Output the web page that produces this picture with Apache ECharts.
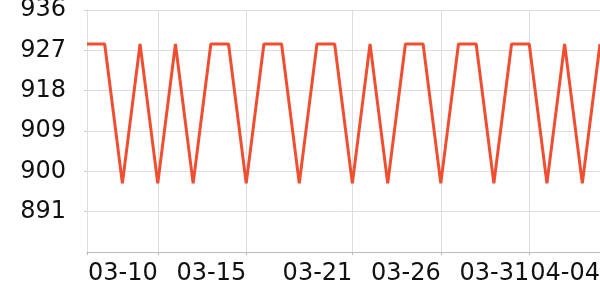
<!DOCTYPE html>
<html>
<head>
<meta charset="utf-8">
<script src="https://cdn.jsdelivr.net/npm/echarts@6/dist/echarts.min.js"></script>
<style>
  html, body { margin: 0; padding: 0; background: #fff; }
  #main { width: 600px; height: 300px; }
</style>
</head>
<body>
<div id="main"></div>
<script>
// dates (03-06 .. 04-04)
var dates = ['03-06', '03-07', '03-08', '03-09', '03-10', '03-11', '03-12', '03-13', '03-14', '03-15',
             '03-16', '03-17', '03-18', '03-19', '03-20', '03-21', '03-22', '03-23', '03-24', '03-25',
             '03-26', '03-27', '03-28', '03-29', '03-30', '03-31', '04-01', '04-02', '04-03', '04-04'];
var values = [928.4, 928.4, 897.3, 928.4, 897.3, 928.4, 897.3, 928.4, 928.4, 897.3,
              928.4, 928.4, 897.3, 928.4, 928.4, 897.3, 928.4, 897.3, 928.4, 928.4,
              897.3, 928.4, 928.4, 897.3, 928.4, 928.4, 897.3, 928.4, 897.3, 928.4];
// which dates get a tick / a label
var tickDates = ['03-06', '03-10', '03-15', '03-21', '03-26', '03-31', '04-04'];
var labelDates = ['03-10', '03-15', '03-21', '03-26', '03-31', '04-04'];

var chart = echarts.init(document.getElementById('main'));

function showTick(i) { return tickDates.indexOf(dates[i]) >= 0; }
function showLabel(i) { return labelDates.indexOf(dates[i]) >= 0; }

var option = {
    animation: false,
    grid: {
        left: 87,
        right: 0,
        top: 10,
        bottom: 48,
        outerBoundsMode: 'none'
    },
    xAxis: {
        type: 'category',
        boundaryGap: false,
        data: dates,
        axisLine: { lineStyle: { color: '#bbb', width: 1 } },
        axisTick: { show: true, length: 3, interval: showTick, lineStyle: { color: '#bbb' } },
        splitLine: { show: true, interval: showTick, lineStyle: { color: '#ddd' } },
        axisLabel: {
            interval: showLabel,
            align: 'right',
            margin: 10,
            fontSize: 24,
            color: '#111',
            fontFamily: 'DejaVu Sans'
        }
    },
    yAxis: {
        type: 'value',
        min: 882,
        max: 936,
        interval: 9,
        axisLine: { show: true, lineStyle: { color: '#ddd' } },
        axisTick: { show: true, length: 3, lineStyle: { color: '#ccc' } },
        splitLine: { lineStyle: { color: '#ddd' } },
        axisLabel: {
            showMinLabel: false,
            margin: 21,
            fontSize: 24,
            color: '#111',
            fontFamily: 'DejaVu Sans'
        }
    },
    series: [
        {
            type: 'line',
            data: values,
            symbol: 'none',
            lineStyle: { color: '#f04e30', width: 3 },
            itemStyle: { color: '#f04e30' }
        }
    ]
};

option && chart.setOption(option);
</script>
</body>
</html>
